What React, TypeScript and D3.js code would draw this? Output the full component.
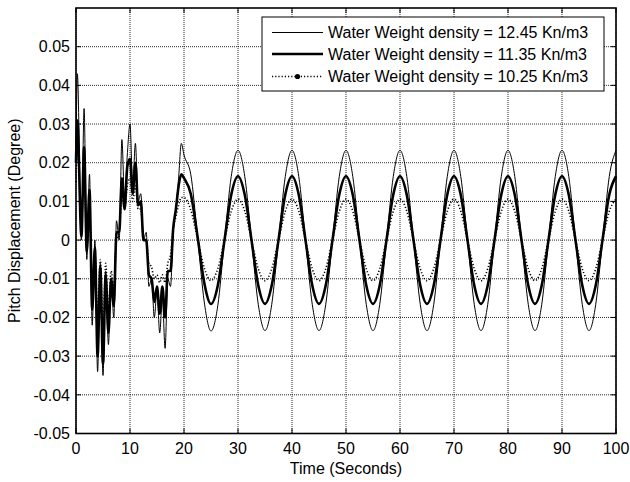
import * as d3 from "d3";

// sample times (s)
const time = [
  0, 0.25, 1, 1.5, 2, 2.5, 3, 3.5, 4, 4.5, 5, 5.5, 6, 6.5, 7, 7.5, 8, 8.5, 9, 9.5,
  10, 10.5, 11, 11.5, 12, 12.5, 13, 13.5, 14, 14.5, 15, 15.5, 16, 16.5, 17, 17.5,
  18, 18.5, 19, 19.5, 20,
  21.25, 22.5, 23.75, 25, 26.25, 27.5, 28.75, 30,
  31.25, 32.5, 33.75, 35, 36.25, 37.5, 38.75, 40,
  41.25, 42.5, 43.75, 45, 46.25, 47.5, 48.75, 50,
  51.25, 52.5, 53.75, 55, 56.25, 57.5, 58.75, 60,
  61.25, 62.5, 63.75, 65, 66.25, 67.5, 68.75, 70,
  71.25, 72.5, 73.75, 75, 76.25, 77.5, 78.75, 80,
  81.25, 82.5, 83.75, 85, 86.25, 87.5, 88.75, 90,
  91.25, 92.5, 93.75, 95, 96.25, 97.5, 98.75, 100,
];

// 12.45 Kn/m3 (thin line)
const density1245 = [
  0.022, 0.043, 0.0, 0.034, -0.005, 0.017, -0.022, 0.0, -0.034, -0.006, -0.035,
  -0.008, -0.027, -0.01, -0.02, 0.005, 0.0, 0.026, 0.01, 0.022, 0.03, 0.014,
  0.025, 0.01, 0.012, 0.0, 0.002, -0.012, -0.01, -0.02, -0.013, -0.024, -0.015,
  -0.028, -0.01, -0.012, 0.002, 0.008, 0.016, 0.025, 0.022,
  0.017, 0.001, -0.016, -0.0235, -0.017, 0.0, 0.0165, 0.0232,
  0.0165, 0.0, -0.0166, -0.0234, -0.0166, 0.0, 0.0164, 0.0232,
  0.0165, 0.0, -0.0166, -0.0234, -0.0166, 0.0, 0.0164, 0.0232,
  0.0165, 0.0, -0.0166, -0.0234, -0.0166, 0.0, 0.0164, 0.0232,
  0.0165, 0.0, -0.0166, -0.0234, -0.0166, 0.0, 0.0164, 0.0232,
  0.0165, 0.0, -0.0166, -0.0234, -0.0166, 0.0, 0.0164, 0.0232,
  0.0165, 0.0, -0.0166, -0.0234, -0.0166, 0.0, 0.0164, 0.0232,
  0.0165, 0.0, -0.0166, -0.0234, -0.0166, 0.0, 0.0164, 0.0232,
];

// 11.35 Kn/m3 (thick line)
const density1135 = [
  0.02, 0.031, 0.001, 0.024, -0.003, 0.013, -0.018, -0.002, -0.03, -0.007,
  -0.032, -0.009, -0.024, -0.01, -0.017, 0.002, 0.002, 0.016, 0.008, 0.019,
  0.021, 0.012, 0.02, 0.009, 0.01, 0.0, 0.0, -0.009, -0.01, -0.016, -0.012,
  -0.019, -0.012, -0.02, -0.008, -0.008, 0.003, 0.008, 0.014, 0.017, 0.016,
  0.012, 0.001, -0.011, -0.0165, -0.0118, 0.0, 0.0117, 0.0165,
  0.0117, 0.0, -0.0117, -0.0165, -0.0117, 0.0, 0.0117, 0.0165,
  0.0117, 0.0, -0.0117, -0.0165, -0.0117, 0.0, 0.0117, 0.0165,
  0.0117, 0.0, -0.0117, -0.0165, -0.0117, 0.0, 0.0117, 0.0165,
  0.0117, 0.0, -0.0117, -0.0165, -0.0117, 0.0, 0.0117, 0.0165,
  0.0117, 0.0, -0.0117, -0.0165, -0.0117, 0.0, 0.0117, 0.0165,
  0.0117, 0.0, -0.0117, -0.0165, -0.0117, 0.0, 0.0117, 0.0165,
  0.0117, 0.0, -0.0117, -0.0165, -0.0117, 0.0, 0.0117, 0.0165,
];

// 10.25 Kn/m3 (dotted line)
const density1025 = [
  0.015, 0.025, 0.004, 0.018, 0.0, 0.01, -0.012, -0.004, -0.02, -0.005, -0.022,
  -0.006, -0.018, -0.008, -0.012, 0.0, 0.002, 0.012, 0.008, 0.014, 0.016, 0.01,
  0.014, 0.008, 0.008, 0.0, 0.0, -0.006, -0.007, -0.01, -0.009, -0.011, -0.009,
  -0.011, -0.006, -0.004, 0.003, 0.006, 0.009, 0.011, 0.011,
  0.0078, 0.0005, -0.0072, -0.0105, -0.0074, 0.0, 0.0074, 0.0106,
  0.0075, 0.0, -0.0074, -0.0105, -0.0074, 0.0, 0.0074, 0.0106,
  0.0075, 0.0, -0.0074, -0.0105, -0.0074, 0.0, 0.0074, 0.0106,
  0.0075, 0.0, -0.0074, -0.0105, -0.0074, 0.0, 0.0074, 0.0106,
  0.0075, 0.0, -0.0074, -0.0105, -0.0074, 0.0, 0.0074, 0.0106,
  0.0075, 0.0, -0.0074, -0.0105, -0.0074, 0.0, 0.0074, 0.0106,
  0.0075, 0.0, -0.0074, -0.0105, -0.0074, 0.0, 0.0074, 0.0106,
  0.0075, 0.0, -0.0074, -0.0105, -0.0074, 0.0, 0.0074, 0.0106,
];

const xTickValues = [0, 10, 20, 30, 40, 50, 60, 70, 80, 90, 100];
const yTickValues = [-0.05, -0.04, -0.03, -0.02, -0.01, 0, 0.01, 0.02, 0.03, 0.04, 0.05];
const yTickLabels = ["-0.05", "-0.04", "-0.03", "-0.02", "-0.01", "0", "0.01", "0.02", "0.03", "0.04", "0.05"];
const seriesNames = [
  "Water Weight density = 12.45 Kn/m3",
  "Water Weight density = 11.35 Kn/m3",
  "Water Weight density = 10.25 Kn/m3",
];

const width = 630,
  height = 482;
const left = 76,
  right = 616,
  top = 8,
  bottom = 433.5;
const tickLen = 5;
const font = "'Liberation Sans', Arial, sans-serif";

export default function App() {
  const xScale = d3.scaleLinear().domain([0, 100]).range([left, right]);
  const yScale = d3.scaleLinear().domain([-0.05, 0.06]).range([bottom, top]);

  const line = d3
    .line<number>()
    .x((_, i) => xScale(time[i]))
    .y((d) => yScale(d))
    .curve(d3.curveMonotoneX);

  const styles = [
    { width: 1, dash: undefined as string | undefined },
    { width: 2.6, dash: undefined as string | undefined },
    { width: 1.6, dash: "1.2,2" },
  ];
  const series = [density1245, density1135, density1025];

  const legX = 262,
    legY = 17,
    legW = 342,
    legH = 74;
  const rowY = [32.5, 54, 76.5];

  return (
    <svg
      width={width}
      height={height}
      style={{ position: "absolute", left: 0, top: 0, background: "#fff" }}
      fontFamily={font}
    >
      <rect x={0} y={0} width={width} height={height} fill="#fff" />

      {/* grid */}
      <g stroke="#111" strokeWidth={0.9} strokeDasharray="1,1">
        {xTickValues.map((t) => (
          <line key={"gx" + t} x1={xScale(t)} x2={xScale(t)} y1={top} y2={bottom} />
        ))}
        {yTickValues.map((t) => (
          <line key={"gy" + t} x1={left} x2={right} y1={yScale(t)} y2={yScale(t)} />
        ))}
      </g>

      {/* data */}
      <g fill="none" stroke="#000" strokeLinejoin="round">
        {series.map((s, i) => (
          <path
            key={i}
            d={line(s) || ""}
            strokeWidth={styles[i].width}
            strokeDasharray={styles[i].dash}
          />
        ))}
      </g>

      {/* ticks */}
      <g stroke="#000" strokeWidth={1}>
        {xTickValues.map((t) => (
          <g key={"tx" + t}>
            <line x1={xScale(t)} x2={xScale(t)} y1={bottom} y2={bottom - tickLen} />
            <line x1={xScale(t)} x2={xScale(t)} y1={top} y2={top + tickLen} />
          </g>
        ))}
        {yTickValues.map((t) => (
          <g key={"ty" + t}>
            <line x1={left} x2={left + tickLen} y1={yScale(t)} y2={yScale(t)} />
            <line x1={right} x2={right - tickLen} y1={yScale(t)} y2={yScale(t)} />
          </g>
        ))}
      </g>

      <rect
        x={left}
        y={top}
        width={right - left}
        height={bottom - top}
        fill="none"
        stroke="#000"
        strokeWidth={1.6}
      />

      {/* tick labels */}
      <g fontSize={16} fill="#000">
        {xTickValues.map((t) => (
          <text key={"lx" + t} x={xScale(t)} y={bottom + 20} textAnchor="middle">
            {t}
          </text>
        ))}
        {yTickValues.map((t, i) => (
          <text key={"ly" + t} x={left - 6} y={yScale(t) + 5.7} textAnchor="end">
            {yTickLabels[i]}
          </text>
        ))}
      </g>

      <text x={(left + right) / 2} y={474} textAnchor="middle" fontSize={16}>
        Time (Seconds)
      </text>
      <text
        transform={`translate(${20} ${(top + bottom) / 2}) rotate(-90)`}
        textAnchor="middle"
        fontSize={16}
      >
        Pitch Displacement (Degree)
      </text>

      {/* legend */}
      <rect x={legX} y={legY} width={legW} height={legH} fill="#fff" stroke="#000" strokeWidth={1} />
      {seriesNames.map((name, i) => (
        <g key={name}>
          <line
            x1={272}
            x2={323}
            y1={rowY[i]}
            y2={rowY[i]}
            stroke="#000"
            strokeWidth={styles[i].width}
            strokeDasharray={styles[i].dash}
          />
          {i === 2 && <circle cx={297.5} cy={rowY[i]} r={2.6} fill="#000" />}
          <text x={328} y={rowY[i] + 5.7} fontSize={16}>
            {name}
          </text>
        </g>
      ))}
    </svg>
  );
}
